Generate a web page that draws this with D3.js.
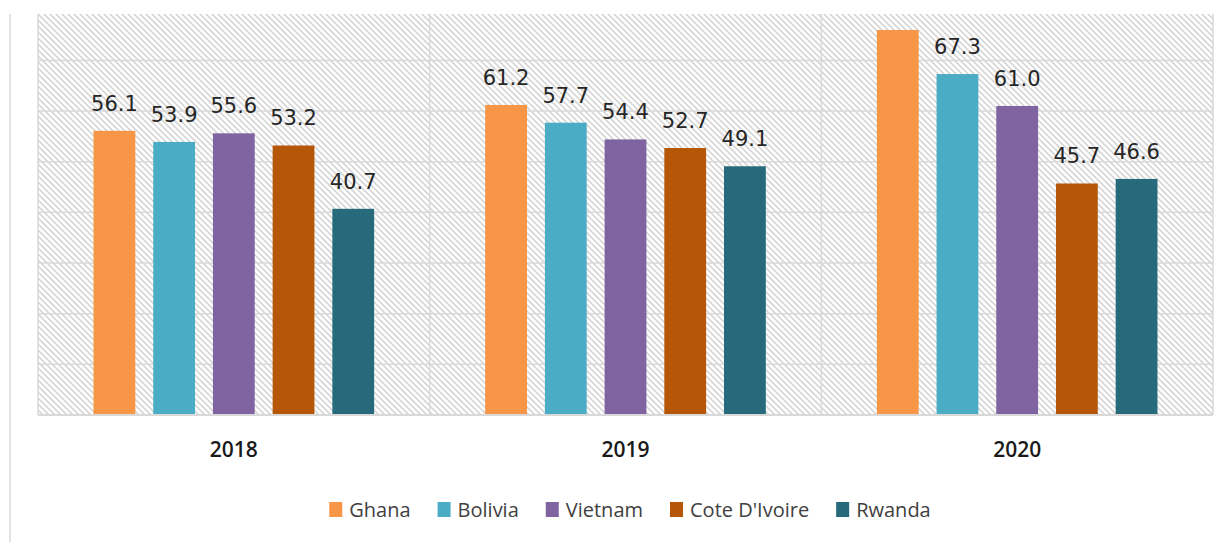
<!DOCTYPE html>
<html>
<head>
<meta charset="utf-8">
<script src="https://cdn.jsdelivr.net/npm/d3@7"></script>
<style>
  html, body { margin: 0; padding: 0; background: #fff; }
  svg { display: block; }
</style>
</head>
<body>
<svg id="chart"></svg>
<script>
// data
const years = ['2018', '2019', '2020'];
const countries = ['Ghana', 'Bolivia', 'Vietnam', "Cote D'Ivoire", 'Rwanda'];
const ghana = [56.1, 61.2, 76.0];
const bolivia = [53.9, 57.7, 67.3];
const vietnam = [55.6, 54.4, 61.0];
const coteDIvoire = [53.2, 52.7, 45.7];
const rwanda = [40.7, 49.1, 46.6];
const colors = ['#F79646', '#4BACC6', '#8064A2', '#B65708', '#276A7C'];
const gridTicks = [10, 20, 30, 40, 50, 60, 70];

const series = [ghana, bolivia, vietnam, coteDIvoire, rwanda];
const data = years.map((yr, i) => ({
  year: yr,
  values: countries.map((c, j) => ({ country: c, value: series[j][i] })),
}));

const width = 1228;
const height = 542;
const plot = { left: 38, right: 1213, top: 14, bottom: 415 };

const svg = d3.select('#chart').attr('width', width).attr('height', height);

// hatch pattern for plot background
const defs = svg.append('defs');
defs
  .append('pattern')
  .attr('id', 'hatch')
  .attr('patternUnits', 'userSpaceOnUse')
  .attr('width', 6)
  .attr('height', 6)
  .append('path')
  .attr('d', 'M-1,-1 L7,7 M-1,5 L1,7 M5,-1 L7,1')
  .attr('stroke', '#d6d6d6')
  .attr('stroke-width', 1.6);

const x0 = d3
  .scaleBand()
  .domain(years)
  .range([plot.left, plot.right])
  .padding(0);

const x1 = d3
  .scaleBand()
  .domain(countries)
  .range([0, x0.bandwidth()])
  .paddingInner(0.3)
  .paddingOuter(0.93);

const y = d3
  .scaleLinear()
  .domain([0, 80])
  .range([plot.bottom, plot.bottom - 80 * 5.066]);

// outer frame line on the left
svg
  .append('line')
  .attr('x1', 10)
  .attr('x2', 10)
  .attr('y1', plot.top)
  .attr('y2', height)
  .attr('stroke', '#d9d9d9')
  .attr('stroke-width', 1.5);

svg
  .append('rect')
  .attr('x', plot.left)
  .attr('y', plot.top)
  .attr('width', plot.right - plot.left)
  .attr('height', plot.bottom - plot.top)
  .attr('fill', 'url(#hatch)');

// horizontal gridlines
svg
  .append('g')
  .selectAll('line')
  .data(gridTicks)
  .join('line')
  .attr('x1', plot.left)
  .attr('x2', plot.right)
  .attr('y1', d => y(d))
  .attr('y2', d => y(d))
  .attr('stroke', '#d9d9d9')
  .attr('stroke-width', 1.5);

// vertical category separators
svg
  .append('g')
  .selectAll('line')
  .data(years.concat(['end']))
  .join('line')
  .attr('x1', (d, i) => (i < years.length ? x0(d) : plot.right))
  .attr('x2', (d, i) => (i < years.length ? x0(d) : plot.right))
  .attr('y1', plot.top)
  .attr('y2', plot.bottom)
  .attr('stroke', '#d9d9d9')
  .attr('stroke-width', 1.5);

const groups = svg
  .append('g')
  .selectAll('g')
  .data(data)
  .join('g')
  .attr('transform', d => `translate(${x0(d.year)},0)`);

groups
  .selectAll('rect')
  .data(d => d.values)
  .join('rect')
  .attr('x', d => x1(d.country))
  .attr('y', d => y(d.value))
  .attr('width', x1.bandwidth())
  .attr('height', d => y(0) - y(d.value))
  .attr('fill', (d, i) => colors[i]);

// value labels (the one running off the top is cut in the source)
groups
  .selectAll('text')
  .data(d => d.values.filter(v => y(v.value) - 35 > plot.top))
  .join('text')
  .attr('x', d => x1(d.country) + x1.bandwidth() / 2)
  .attr('y', d => y(d.value) - 20)
  .attr('text-anchor', 'middle')
  .attr('font-family', 'DejaVu Sans')
  .attr('font-size', 21)
  .attr('fill', '#262626')
  .text(d => d.value.toFixed(1));

// baseline
svg
  .append('line')
  .attr('x1', plot.left)
  .attr('x2', plot.right)
  .attr('y1', plot.bottom)
  .attr('y2', plot.bottom)
  .attr('stroke', '#d9d9d9')
  .attr('stroke-width', 2);

// year labels
svg
  .append('g')
  .selectAll('text')
  .data(years)
  .join('text')
  .attr('x', d => x0(d) + x0.bandwidth() / 2)
  .attr('y', 457)
  .attr('text-anchor', 'middle')
  .attr('font-family', 'Open Sans')
  .attr('font-weight', 600)
  .attr('font-size', 21)
  .attr('fill', '#1a1a1a')
  .text(d => d);

// legend
const legend = svg.append('g');
const items = legend
  .selectAll('g')
  .data(countries)
  .join('g');

items
  .append('rect')
  .attr('width', 13)
  .attr('height', 15)
  .attr('y', -15)
  .attr('fill', (d, i) => colors[i]);

items
  .append('text')
  .attr('x', 20)
  .attr('y', 0)
  .attr('font-family', 'Open Sans')
  .attr('font-size', 20)
  .attr('fill', '#404040')
  .text(d => d);

let cx = 0;
items.each(function () {
  const g = d3.select(this);
  g.attr('transform', `translate(${cx},0)`);
  cx += 20 + g.select('text').node().getComputedTextLength() + 27;
});
const legendWidth = cx - 27;
legend.attr('transform', `translate(${630 - legendWidth / 2},517)`);
</script>
</body>
</html>
